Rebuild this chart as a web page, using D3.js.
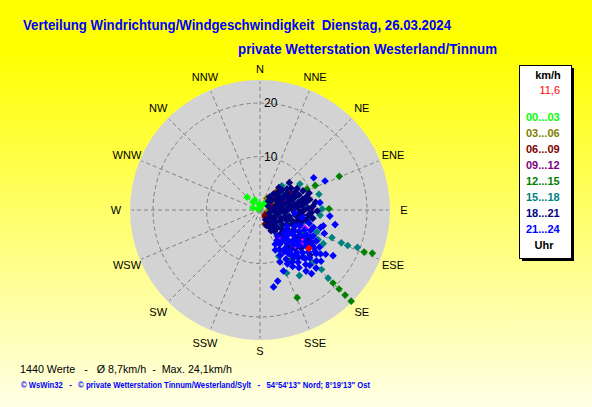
<!DOCTYPE html>
<html>
<head>
<meta charset="utf-8">
<script src="https://cdn.jsdelivr.net/npm/d3@7"></script>
<style>
  html, body { margin: 0; padding: 0; background: #ffff00; }
  svg { display: block; }
  text { font-family: "Liberation Sans", Arial, sans-serif; }
</style>
</head>
<body>
<div id="chart"></div>
<script>
// Windrose scatter: one point per minute, direction / speed, coloured by hour band

const directions = ["N", "NNE", "NE", "ENE", "E", "ESE", "SE", "SSE",
                    "S", "SSW", "SW", "WSW", "W", "WNW", "NW", "NNW"];
const ringValues = [10, 20];
const maxSpeed = 24.3;

const hourBands = ["00...03", "03...06", "06...09", "09...12",
                   "12...15", "15...18", "18...21", "21...24"];
const bandColors = ["#00ff00", "#808000", "#800000", "#800080",
                    "#008000", "#008080", "#000080", "#0000ff"];

// [direction in degrees, speed in km/h]
const band0 = [[315,3.4],[319,2.0],[333,2.1],[35,1.6],[300,0.4],[285,1.4],[20,0.8],[350,1.1]];
const band1 = [[43,3.3],[42,4.8],[30,2.5],[100,1.4],[60,3.0]];
const band2 = [[43,4.4],[61,6.6],[90,8.0],[135,1.3],[135,3.2],[137,4.6],[73,1.9],[132,2.6],
               [75,5.8],[144,1.6],[100,2.5],[55,3.5],[150,3.8],[118,3.0],[85,4.5],[110,5.5],
               [160,2.8],[65,2.2]];
const band3 = [[89,9.5],[107,7.8],[70,5.0],[130,6.5]];
const band4 = [[67,16.1],[66,11.3],[66,9.6],[89,12.9],[112,21.0],[111,22.5],[135,19.3],[135,20.9],
               [135,22.5],[135,24.1],[157,17.8],[100,7.0],[120,9.0],[140,8.0],[85,6.0],[150,11.0],
               [125,12.0]];
const band5 = [[42,6.1],[57,8.9],[75,11.4],[89,11.6],[95,11.3],[99,9.5],[111,14.4],[112,16.4],
               [112,17.7],[111,19.5],[135,18.0],[134,16.0],[157,12.8],[158,9.3],[78,7.4],[104,2.3],
               [111,11.4],[117,12.2],[137,12.4],[135,13.9],[60,4.0],[80,5.0],[95,4.0],[115,6.0],
               [130,4.5],[70,7.0],[105,8.5],[125,7.5],[140,9.0],[145,11.0],[85,8.0],[50,5.0],
               [149,14.3],[118,13.4]];
const band6 = [[44,2.3],[66,1.7],[90,2.5],[109,1.8],[126,2.4],[150,2.1],
               [36,3.0],[50,2.8],[72,3.3],[83,2.6],[97,3.1],[119,2.9],[133,3.4],[144,2.7],[157,3.2],
               [40,3.9],[57,3.6],[68,4.1],[80,3.5],[91,4.0],[103,3.4],[112,4.2],[126,3.7],[141,4.0],[150,3.5],
               [47,4.7],[54,4.3],[63,4.9],[77,4.4],[88,5.0],[95,4.5],[104,4.9],[118,4.3],[123,5.0],[136,4.6],[146,4.8],
               [48,5.6],[60,5.2],[66,5.8],[75,5.3],[84,5.7],[92,5.0],[102,5.6],[111,5.3],[119,5.8],[131,5.4],[139,5.9],
               [52,6.4],[58,6.0],[67,6.6],[72,6.2],[81,6.5],[90,6.1],[98,6.7],[108,6.3],[114,6.6],[125,6.2],
               [55,7.1],[63,7.4],[70,6.9],[79,7.3],[86,7.0],[93,7.5],[100,7.1],[105,7.4],[112,7.0],[121,7.3],
               [60,8.0],[69,7.8],[76,8.2],[83,7.9],[90,8.3],[97,7.9],[104,8.2],[111,8.0],
               [66,8.8],[74,9.0],[81,8.7],[88,9.0],[96,9.1],[102,8.8],
               [71,9.7],[78,9.5],[86,9.9],[93,9.6],[99,10.0],
               [82,10.5],[91,10.7],[47,7.5],[40,5.5],[152,4.4],[140,7.0],[130,8.5],
               [124,9.6],[138,9.6],[121,10.6],[133,10.5],[145,10.4],[125,11.4],[141,11.4],
               [127,8.6],[143,8.5],[132,12.6]];
const band7 = [[121,5.9],[133,6.2],[146,5.8],[128,6.6],[139,6.8],[151,6.5],
               [115,7.2],[124,7.4],[131,7.0],[137,7.6],[144,7.1],[150,7.4],[156,7.0],
               [111,8.0],[119,8.3],[127,7.9],[134,8.4],[141,8.0],[147,8.6],[154,8.2],[159,8.0],
               [114,9.1],[122,8.8],[129,9.3],[136,9.0],[143,9.4],[150,9.0],[156,9.3],
               [112,10.2],[118,9.9],[125,10.4],[132,10.0],[139,10.5],[145,10.1],[152,10.4],
               [116,11.1],[122,11.4],[128,10.9],[135,11.3],[141,11.0],[148,11.4],
               [119,12.0],[125,12.3],[131,12.0],[137,12.4],[144,12.1],[150,12.2],
               [122,13.1],[128,13.3],[134,12.9],[140,13.3],[146,13.0],
               [126,14.0],[132,14.2],[138,13.9],[143,14.3],
               [130,14.9],[136,15.1],[141,15.3],
               [118,10.7],[133,9.6],[147,9.7],[124,11.8],[138,11.9],[130,8.6],[144,10.8],
               [120,9.6],[153,11.3],[127,12.9],
               [159,10.4],[159,12.2],[166,13.7],[170,14.6],[124,14.8],[122,16.1],[59,11.7],[66,13.3],
               [83,11.3],[95,13.1],[101,14.3],[104,12.2],[108,10.5],[106,11.8],[110,12.8],
               [95,6.5],[100,8.0],[105,9.5]];
const pinkPoints = [[147,6.2],[112,9.1],[148,8.8],[127,9.9],[135,9.3]];
const meanPoint = [128, 11.6];

const titleLine1 = "Verteilung Windrichtung/Windgeschwindigkeit  Dienstag, 26.03.2024";
const titleLine2 = "private Wetterstation Westerland/Tinnum";
const summaryLine = "1440 Werte   -   \u00d8 8,7km/h  -  Max. 24,1km/h";
const footerLine = "\u00a9 WsWin32   -   \u00a9 private Wetterstation Tinnum/Westerland/Sylt   -   54\u00b054'13\" Nord; 8\u00b019'13\" Ost";

const width = 592, height = 407;
const cx = 260, cy = 210;

const svg = d3.select("#chart").append("svg")
    .attr("width", width)
    .attr("height", height);

// yellow background fading out to the bottom
const grad = svg.append("defs").append("linearGradient")
    .attr("id", "bg").attr("x1", 0).attr("y1", 0).attr("x2", 0).attr("y2", 1);
grad.append("stop").attr("offset", "0%").attr("stop-color", "#ffff00");
grad.append("stop").attr("offset", "12%").attr("stop-color", "#ffff00");
grad.append("stop").attr("offset", "100%").attr("stop-color", "#ffffe6");

svg.append("rect")
    .attr("width", width).attr("height", height)
    .attr("fill", "url(#bg)");

// scales
const r = d3.scaleLinear().domain([0, maxSpeed]).range([0, 130]);
const ang = d3.scaleLinear().domain([0, 360]).range([0, 2 * Math.PI]);
const pos = d => d3.pointRadial(ang(d[0]), r(d[1]));

const plot = svg.append("g").attr("transform", `translate(${cx},${cy})`);

// grey disc
plot.append("circle")
    .attr("r", r(maxSpeed))
    .attr("fill", "#d3d3d3");

// radial grid
plot.selectAll(".spoke")
    .data(directions)
    .join("line")
    .attr("class", "spoke")
    .attr("x1", 0).attr("y1", 0)
    .attr("x2", (d, i) => d3.pointRadial(ang(i * 22.5), r(24))[0])
    .attr("y2", (d, i) => d3.pointRadial(ang(i * 22.5), r(24))[1])
    .attr("stroke", "#808080")
    .attr("stroke-width", 1)
    .attr("stroke-dasharray", "4,3");

plot.selectAll(".ring")
    .data(ringValues)
    .join("circle")
    .attr("class", "ring")
    .attr("r", d => r(d))
    .attr("fill", "none")
    .attr("stroke", "#808080")
    .attr("stroke-width", 1)
    .attr("stroke-dasharray", "4,3");

plot.selectAll(".ringlabel")
    .data(ringValues)
    .join("text")
    .attr("class", "ringlabel")
    .attr("x", 4)
    .attr("y", d => -r(d) + 4)
    .attr("font-size", 12)
    .attr("fill", "#000")
    .text(d => d);

// compass labels
plot.selectAll(".dir")
    .data(directions)
    .join("text")
    .attr("class", "dir")
    .attr("x", (d, i) => d3.pointRadial(ang(i * 22.5), i % 8 === 0 ? 141 : 144)[0])
    .attr("y", (d, i) => d3.pointRadial(ang(i * 22.5), i % 8 === 0 ? 141 : 144)[1])
    .attr("text-anchor", "middle")
    .attr("dy", "0.35em")
    .attr("font-size", 11)
    .attr("fill", "#000")
    .text(d => d);

// scatter points, drawn in time order
const diamond = "M0,-3.8L3.8,0L0,3.8L-3.8,0Z";

function drawPoints(pts, color) {
    plot.append("g")
        .selectAll("path")
        .data(pts)
        .join("path")
        .attr("d", diamond)
        .attr("transform", d => `translate(${pos(d)})`)
        .attr("fill", color);
}

drawPoints(band0, bandColors[0]);
drawPoints(band1, bandColors[1]);
drawPoints(band2, bandColors[2]);
drawPoints(band3, bandColors[3]);
drawPoints(band4, bandColors[4]);
drawPoints(band5, bandColors[5]);
drawPoints(band6, bandColors[6]);
drawPoints(pinkPoints, "#ff00ff");
drawPoints(band7, bandColors[7]);
drawPoints([meanPoint], "#ff0000");

// titles
svg.append("text")
    .attr("x", 23).attr("y", 30)
    .attr("font-size", 14).attr("font-weight", "bold")
    .attr("fill", "#0000ff")
    .attr("textLength", 428).attr("lengthAdjust", "spacingAndGlyphs")
    .style("white-space", "pre")
    .text(titleLine1);

svg.append("text")
    .attr("x", 238).attr("y", 54)
    .attr("font-size", 14).attr("font-weight", "bold")
    .attr("fill", "#0000ff")
    .attr("textLength", 259).attr("lengthAdjust", "spacingAndGlyphs")
    .text(titleLine2);

// legend box with shadow
const lg = svg.append("g");
lg.append("rect")
    .attr("x", 522).attr("y", 68).attr("width", 52).attr("height", 193)
    .attr("fill", "#000");
lg.append("rect")
    .attr("x", 519.5).attr("y", 65.5).attr("width", 52).attr("height", 193)
    .attr("fill", "#fff").attr("stroke", "#000").attr("stroke-width", 1);

lg.append("text")
    .attr("x", 548).attr("y", 79)
    .attr("text-anchor", "middle")
    .attr("font-size", 11).attr("font-weight", "bold")
    .text("km/h");

lg.append("text")
    .attr("x", 560).attr("y", 94)
    .attr("text-anchor", "end")
    .attr("font-size", 11)
    .attr("fill", "#ff0000")
    .text(String(meanPoint[1]).replace(".", ","));

lg.selectAll(".band")
    .data(hourBands)
    .join("text")
    .attr("class", "band")
    .attr("x", 526)
    .attr("y", (d, i) => 121 + i * 16)
    .attr("font-size", 11).attr("font-weight", "bold")
    .attr("fill", (d, i) => bandColors[i])
    .text(d => d);

lg.append("text")
    .attr("x", 544).attr("y", 249)
    .attr("text-anchor", "middle")
    .attr("font-size", 11).attr("font-weight", "bold")
    .text("Uhr");

// footer
svg.append("text")
    .attr("x", 20).attr("y", 373)
    .attr("font-size", 11)
    .attr("fill", "#000")
    .attr("textLength", 212).attr("lengthAdjust", "spacingAndGlyphs")
    .style("white-space", "pre")
    .text(summaryLine);

svg.append("text")
    .attr("x", 21).attr("y", 388)
    .attr("font-size", 8.5).attr("font-weight", "bold")
    .attr("fill", "#0000ff")
    .attr("textLength", 349).attr("lengthAdjust", "spacingAndGlyphs")
    .style("white-space", "pre")
    .text(footerLine);
</script>
</body>
</html>
